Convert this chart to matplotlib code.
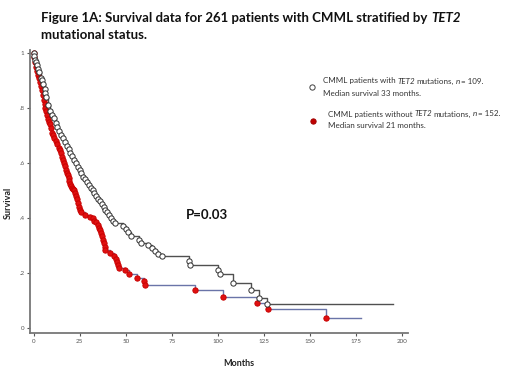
import matplotlib
matplotlib.use("Agg")
import matplotlib.pyplot as plt
from matplotlib.lines import Line2D

# --- data ---
mut_t = [0, 0.5, 1, 1.5, 2, 2.5, 3, 4, 4.5, 5, 6, 6.5, 7, 8, 9, 10, 11, 12, 13, 14,
         15, 16, 17, 18, 19, 20, 21, 22, 23, 24, 25, 26, 27, 28, 29, 30, 31, 32, 33,
         34, 35, 36, 37, 38, 39, 40, 41, 42, 43, 44,
         48.5, 50, 51, 53, 57, 58.5, 62, 64, 66, 67.5, 69.5, 84.5, 85, 100, 101, 108,
         118, 122.5, 126.5]
mut_s = [1.0, 0.99, 0.975, 0.965, 0.955, 0.94, 0.93, 0.91, 0.9, 0.885, 0.87, 0.855,
         0.84, 0.81, 0.79, 0.775, 0.762, 0.745, 0.73, 0.715, 0.70, 0.69, 0.675, 0.66,
         0.65, 0.635, 0.625, 0.61, 0.60, 0.585, 0.575, 0.565, 0.55, 0.54, 0.53, 0.52,
         0.51, 0.50, 0.49, 0.48, 0.47, 0.46, 0.45, 0.44, 0.43, 0.42, 0.41, 0.40, 0.39,
         0.38,
         0.37, 0.36, 0.35, 0.335, 0.32, 0.31, 0.30, 0.29, 0.28, 0.27, 0.26, 0.245,
         0.23, 0.21, 0.197, 0.165, 0.138, 0.11, 0.088]
mut_end = 195

wt_t = [0, 0.5, 1, 1.5, 2, 2.5, 3, 3.5, 4, 4.5, 5, 5.5, 6, 6.5, 7, 7.5, 8, 8.5, 9,
        9.5, 10, 10.5, 11, 12, 13, 14, 14.5, 15, 15.5, 16, 16.5, 17, 17.5, 18, 18.5,
        19, 19.5, 20, 20.5, 21, 21.5, 22, 22.5, 23, 23.5, 24, 24.5, 25, 25.5, 28,
        30.5, 32, 33, 34, 35, 35.5, 36, 36.5, 37, 37.5, 38, 38.5, 39, 41.5, 43.5,
        44.5, 45.5, 46, 46.5, 49.5, 52, 56, 60, 60.5, 87.5, 102.7, 121, 127, 158.5]
wt_s = [1.0, 0.985, 0.965, 0.95, 0.935, 0.92, 0.91, 0.895, 0.88, 0.865, 0.845, 0.83,
        0.815, 0.80, 0.79, 0.775, 0.76, 0.75, 0.74, 0.725, 0.71, 0.70, 0.69, 0.68,
        0.67, 0.655, 0.645, 0.635, 0.62, 0.61, 0.60, 0.59, 0.575, 0.565, 0.555, 0.545,
        0.535, 0.525, 0.515, 0.51, 0.505, 0.50, 0.49, 0.48, 0.47, 0.455, 0.44, 0.43,
        0.42, 0.41, 0.405, 0.40, 0.39, 0.385, 0.375, 0.365, 0.355, 0.345, 0.335, 0.32,
        0.31, 0.295, 0.285, 0.272, 0.26, 0.25, 0.24, 0.23, 0.218, 0.21, 0.197, 0.183,
        0.17, 0.155, 0.138, 0.113, 0.09, 0.068, 0.036]
wt_end = 177.5

x_ticks = [0, 25, 50, 75, 100, 125, 150, 175, 200]
y_ticks = [0, 0.2, 0.4, 0.6, 0.8, 1.0]
y_labels = ["0", ".2", ".4", ".6", ".8", "1"]

title = ["Figure 1A: Survival data for 261 patients with CMML stratified by",
         "TET2", "mutational status."]

plt.rcParams['font.family'] = ['Lato', 'DejaVu Sans']

fig = plt.figure(figsize=(5.2, 3.71), dpi=100)
ax = fig.add_axes([30/520, 38/371, 378/520, 283/371])

ax.step(mut_t + [mut_end], mut_s + [mut_s[-1]], where='post', color='#505050', lw=1.0, zorder=2)
ax.step(wt_t + [wt_end], wt_s + [wt_s[-1]], where='post', color='#6a74a8', lw=1.0, zorder=2)
ax.plot(wt_t, wt_s, 'o', ms=3.8, mfc='#e01010', mec='#c80000', mew=0.7, ls='none', zorder=3)
ax.plot(mut_t, mut_s, 'o', ms=3.8, mfc='white', mec='#303030', mew=0.7, ls='none', zorder=4)

ax.set_xlim(-1.9, 203)
ax.set_ylim(-0.018, 1.01)
ax.set_xticks(x_ticks)
ax.set_xticklabels([str(v) for v in x_ticks])
ax.set_yticks(y_ticks)
ax.set_yticklabels(y_labels)
ax.tick_params(labelsize=4.5, colors='#555555', length=2, width=0.8, pad=2)
for s in ['top', 'right']:
    ax.spines[s].set_visible(False)
for s in ['left', 'bottom']:
    ax.spines[s].set_color('#777777')
    ax.spines[s].set_linewidth(1.3)

fig.text(8/520, 1 - 203/371, "Survival", rotation=90, ha='center', va='center',
         fontsize=6.5, fontweight='bold', color='#222222')
fig.text(239/520, 1 - 364/371, "Months", ha='center', va='center',
         fontsize=6.5, fontweight='bold', color='#222222')
ax.text(207/520, 1 - 215/371, "P=0.03", transform=fig.transFigure, ha='center',
        va='center', fontsize=9.5, fontweight='bold', color='#111111')

# title
TFS = 9.5
t1 = fig.text(41/520, 1 - 18/371, title[0], ha='left', va='center', fontsize=TFS,
              fontweight='bold', color='#111111')
fig.canvas.draw()
bb = t1.get_window_extent()
fig.text((bb.x1 + 3.5)/520, 1 - 18/371, title[1], ha='left', va='center', fontsize=TFS,
         fontweight='bold', style='italic', color='#111111')
fig.text(41/520, 1 - 35/371, title[2], ha='left', va='center', fontsize=TFS,
         fontweight='bold', color='#111111')

# legend
fig.add_artist(Line2D([312/520], [1 - 87/371], marker='o', ms=3.8, mfc='white',
                      mec='#404040', mew=0.7, transform=fig.transFigure))
fig.add_artist(Line2D([313/520], [1 - 121/371], marker='o', ms=3.8, mfc='#c00000',
                      mec='#a00000', mew=0.7, transform=fig.transFigure))

def rich_line(x, y, parts, fs=5.8):
    cx = x
    for txt, it in parts:
        t = fig.text(cx/520, 1 - y/371, txt, ha='left', va='center', fontsize=fs,
                     style='italic' if it else 'normal', color='#333333')
        fig.canvas.draw()
        cx = t.get_window_extent().x1 + 1.6
    return cx

rich_line(323, 81, [("CMML patients with", False), ("TET2", True),
                    ("mutations,", False), ("n", True), ("= 109.", False)])
rich_line(323, 93, [("Median survival 33 months.", False)])
rich_line(328, 114, [("CMML patients without", False), ("TET2", True),
                     ("mutations,", False), ("n", True), ("= 152.", False)])
rich_line(328, 126, [("Median survival 21 months.", False)])

fig.savefig("out.png", dpi=100)
